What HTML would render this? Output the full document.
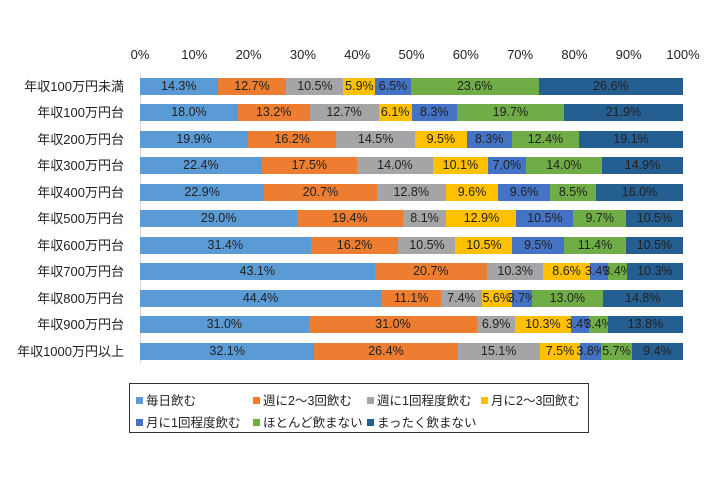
<!DOCTYPE html>
<html><head><meta charset="utf-8"><style>
body{margin:0;width:720px;height:480px;background:#fff;font-family:"Liberation Sans","Noto Sans CJK JP",sans-serif;position:relative;overflow:hidden;color:#222}
.t{position:absolute;top:47px;width:50px;margin-left:-25px;text-align:center;font-size:13px}
.lab{position:absolute;right:596px;font-size:13px;white-space:nowrap;line-height:17px}
.bar{position:absolute;left:140px;width:543px;height:17px;display:flex}
.bar div{height:17px;line-height:17px;text-align:center;font-size:12.5px;white-space:nowrap;display:flex;justify-content:center;overflow:visible;color:#222}
.c1{background:#5B9BD5}.c2{background:#ED7D31}.c3{background:#A5A5A5}.c4{background:#FFC000}.c5{background:#4472C4}.c6{background:#70AD47}.c7{background:#255E91}
.leg{position:absolute;left:129px;top:383px;width:458px;height:48px;border:1px solid #333;font-size:12.5px}
.li{position:absolute;white-space:nowrap}
.li i{display:inline-block;width:7px;height:7px;margin-right:3px;vertical-align:1px}
</style></head><body>
<div class="t" style="left:140px">0%</div><div class="t" style="left:194.3px">10%</div><div class="t" style="left:248.6px">20%</div><div class="t" style="left:302.9px">30%</div><div class="t" style="left:357.2px">40%</div><div class="t" style="left:411.5px">50%</div><div class="t" style="left:465.8px">60%</div><div class="t" style="left:520.1px">70%</div><div class="t" style="left:574.4px">80%</div><div class="t" style="left:628.7px">90%</div><div class="t" style="left:683px">100%</div>
<div style="position:absolute;left:140px;top:74px;width:1px;height:290px;background:#d9d9d9"></div>
<div id="c"></div>
<div class="leg">
<div class="li" style="left:6px;top:6px"><i class="c1"></i>毎日飲む</div>
<div class="li" style="left:123px;top:6px"><i class="c2"></i>週に2～3回飲む</div>
<div class="li" style="left:237px;top:6px"><i class="c3"></i>週に1回程度飲む</div>
<div class="li" style="left:351px;top:6px"><i class="c4"></i>月に2～3回飲む</div>
<div class="li" style="left:6px;top:28px"><i class="c5"></i>月に1回程度飲む</div>
<div class="li" style="left:123px;top:28px"><i class="c6"></i>ほとんど飲まない</div>
<div class="li" style="left:237px;top:28px"><i class="c7"></i>まったく飲まない</div>
</div>
<script>
var L=["年収100万円未満","年収100万円台","年収200万円台","年収300万円台","年収400万円台","年収500万円台","年収600万円台","年収700万円台","年収800万円台","年収900万円台","年収1000万円以上"];
var D=[[14.3,12.7,10.5,5.9,6.5,23.6,26.6],[18.0,13.2,12.7,6.1,8.3,19.7,21.9],[19.9,16.2,14.5,9.5,8.3,12.4,19.1],[22.4,17.5,14.0,10.1,7.0,14.0,14.9],[22.9,20.7,12.8,9.6,9.6,8.5,16.0],[29.0,19.4,8.1,12.9,10.5,9.7,10.5],[31.4,16.2,10.5,10.5,9.5,11.4,10.5],[43.1,20.7,10.3,8.6,3.4,3.4,10.3],[44.4,11.1,7.4,5.6,3.7,13.0,14.8],[31.0,31.0,6.9,10.3,3.4,3.4,13.8],[32.1,26.4,15.1,7.5,3.8,5.7,9.4]];
var h="";
for(var r=0;r<11;r++){var y=78+r*26.45;var s=0;D[r].forEach(function(v){s+=v});
h+='<div class="lab" style="top:'+y+'px">'+L[r]+'</div><div class="bar" style="top:'+y+'px">';
D[r].forEach(function(v,i){h+='<div class="c'+(i+1)+'" style="width:'+(v/s*100)+'%"><span>'+v.toFixed(1)+'%</span></div>'});
h+='</div>';}
document.getElementById("c").innerHTML=h;
</script>
</body></html>
